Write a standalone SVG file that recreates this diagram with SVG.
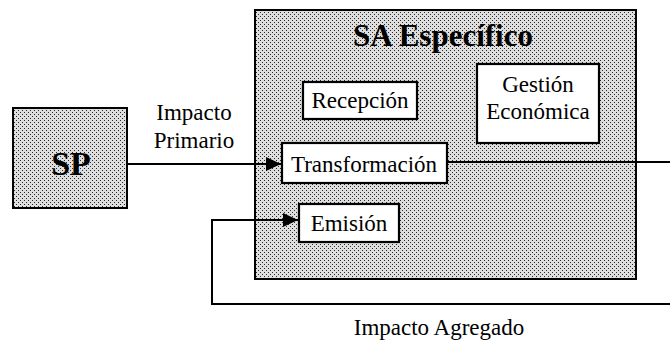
<svg xmlns="http://www.w3.org/2000/svg" width="670" height="347" viewBox="0 0 670 347">
<defs>
<pattern id="dots" width="4" height="4" patternUnits="userSpaceOnUse">
<rect width="4" height="4" fill="#dedede"/>
<rect x="0" y="0" width="1" height="1" fill="#2a2a2a"/>
<rect x="2" y="2" width="1" height="1" fill="#2a2a2a"/>
</pattern>
<marker id="arr" markerWidth="16" markerHeight="14" refX="15" refY="7" orient="auto" markerUnits="userSpaceOnUse">
<path d="M0,0 L15,7 L0,14 Z" fill="#000"/>
</marker>
</defs>
<style>
.t{font-family:"Liberation Serif","Times New Roman",serif;fill:#000;text-anchor:middle}
.n{font-size:23px}
.b{font-weight:bold}
.box{fill:#fff;stroke:#000;stroke-width:2.2}
.grey{fill:url(#dots);stroke:#000;stroke-width:2}
.c{fill:none;stroke:#000;stroke-width:2}
</style>
<g id="sa">
<rect class="grey" x="255" y="10" width="381" height="269"/>
<text class="t b" x="443" y="46" font-size="31">SA Específico</text>
</g>
<g id="sp">
<rect class="grey" x="13" y="108" width="114" height="100"/>
<text class="t b" x="71" y="175" font-size="34">SP</text>
</g>
<g id="recepcion">
<rect class="box" x="303" y="82" width="114" height="37"/>
<text class="t n" x="360" y="108">Recepción</text>
</g>
<g id="gestion">
<rect class="box" x="477" y="64" width="122" height="79"/>
<text class="t n" x="538" y="92">Gestión</text>
<text class="t n" x="538" y="119">Económica</text>
</g>
<g id="transformacion">
<rect class="box" x="282" y="143" width="165" height="40"/>
<text class="t n" x="364" y="172">Transformación</text>
</g>
<g id="emision">
<rect class="box" x="299" y="204" width="100" height="38"/>
<text class="t n" x="349" y="231">Emisión</text>
</g>
<g id="connectors">
<line class="c" x1="127" y1="164" x2="281" y2="164" marker-end="url(#arr)"/>
<line class="c" x1="447" y1="162" x2="670" y2="162"/>
<polyline class="c" points="670,304 212,304 212,220 298,220" marker-end="url(#arr)"/>
</g>
<g id="labels">
<text class="t n" x="194" y="120">Impacto</text>
<text class="t n" x="194" y="148">Primario</text>
<text class="t n" x="439" y="335">Impacto Agregado</text>
</g>
</svg>
